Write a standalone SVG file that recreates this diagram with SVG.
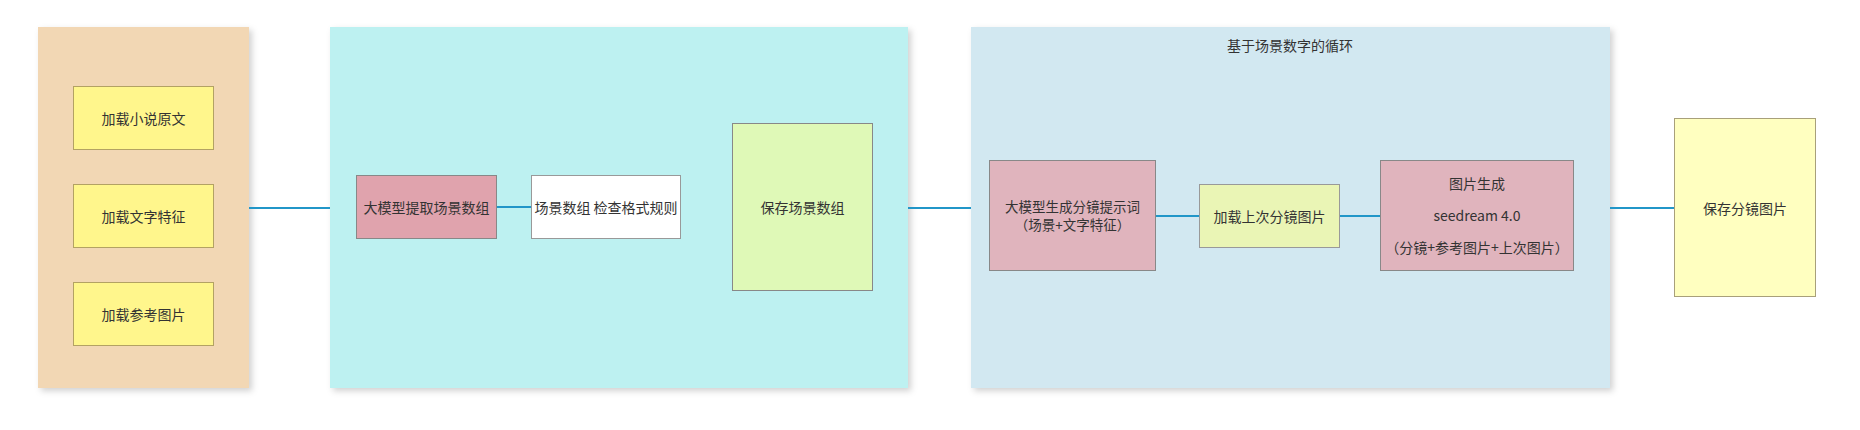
<svg xmlns="http://www.w3.org/2000/svg" width="1860" height="430" viewBox="0 0 1860 430">
<defs>
<filter id="sh" x="-5%" y="-5%" width="115%" height="115%">
<feDropShadow dx="3" dy="3" stdDeviation="3" flood-color="#000" flood-opacity="0.18"/>
</filter>
<style>
text{font-family:"Noto Sans CJK SC","Microsoft YaHei",sans-serif;font-size:14px;fill:#333;text-anchor:middle;dominant-baseline:central}
.box{stroke-width:1}
.conn{stroke:#2196c8;stroke-width:2;fill:none}
</style>
</defs>
<rect width="1860" height="430" fill="#fff"/>
<g id="containers">
<rect id="c1" x="38" y="27" width="211" height="361" fill="#f2d7b4" filter="url(#sh)"/>
<rect id="c2" x="330" y="27" width="578" height="361" fill="#bdf1f1" filter="url(#sh)"/>
<g id="c3">
<rect x="971" y="27" width="639" height="361" fill="#d2e8f1" filter="url(#sh)"/>
<text x="1290" y="45">基于场景数字的循环</text>
</g>
</g>
<g id="connectors">
<line class="conn" x1="249" y1="208" x2="330" y2="208"/>
<line class="conn" x1="497" y1="207" x2="531" y2="207"/>
<line class="conn" x1="908" y1="208" x2="971" y2="208"/>
<line class="conn" x1="1156" y1="216" x2="1199" y2="216"/>
<line class="conn" x1="1340" y1="216" x2="1380" y2="216"/>
<line class="conn" x1="1610" y1="208" x2="1674" y2="208"/>
</g>
<g id="n1"><rect class="box" x="73.5" y="86.5" width="140" height="63" fill="#fff68c" stroke="#b3a263"/><text x="143.5" y="118">加载小说原文</text></g>
<g id="n2"><rect class="box" x="73.5" y="184.5" width="140" height="63" fill="#fff68c" stroke="#b3a263"/><text x="143.5" y="216">加载文字特征</text></g>
<g id="n3"><rect class="box" x="73.5" y="282.5" width="140" height="63" fill="#fff68c" stroke="#b3a263"/><text x="143.5" y="314">加载参考图片</text></g>
<g id="n4"><rect class="box" x="356.5" y="175.5" width="140" height="63" fill="#e0a3ad" stroke="#888"/><text x="426.5" y="207">大模型提取场景数组</text></g>
<g id="n5"><rect class="box" x="531.5" y="175.5" width="149" height="63" fill="#fff" stroke="#999"/><text x="606" y="207">场景数组 检查格式规则</text></g>
<g id="n6"><rect class="box" x="732.5" y="123.5" width="140" height="167" fill="#dff9b7" stroke="#888"/><text x="802.5" y="207">保存场景数组</text></g>
<g id="n7"><rect class="box" x="989.5" y="160.5" width="166" height="110" fill="#e0b4bd" stroke="#888"/><text x="1072.5" y="206" style="font-size:13.5px">大模型生成分镜提示词</text><text x="1072.5" y="224" style="font-size:13.5px">（场景+文字特征）</text></g>
<g id="n8"><rect class="box" x="1199.5" y="184.5" width="140" height="63" fill="#eaf5b5" stroke="#999"/><text x="1269.5" y="216">加载上次分镜图片</text></g>
<g id="n9"><rect class="box" x="1380.5" y="160.5" width="193" height="110" fill="#e0b4bd" stroke="#888"/><text x="1477" y="183">图片生成</text><text x="1477" y="215">seedream 4.0</text><text x="1477" y="247">（分镜+参考图片+上次图片）</text></g>
<g id="n10"><rect class="box" x="1674.5" y="118.5" width="141" height="178" fill="#ffffc0" stroke="#a8a07a"/><text x="1745" y="208">保存分镜图片</text></g>
</svg>
